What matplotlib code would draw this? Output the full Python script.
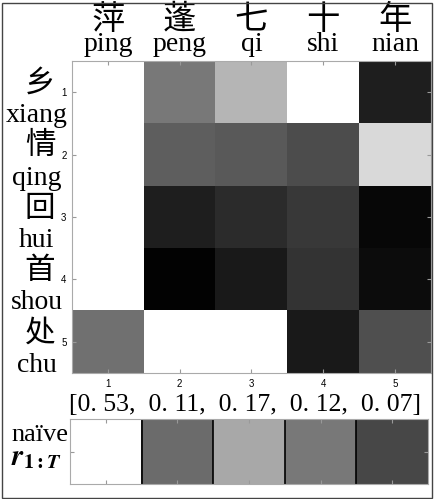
import numpy as np
import matplotlib
matplotlib.use('Agg')
import matplotlib.pyplot as plt
from matplotlib.transforms import blended_transform_factory

# data: gray levels (0 = black, 1 = white)
col_hanzi = ['萍', '蓬', '七', '十', '年']
col_pinyin = ['ping', 'peng', 'qi', 'shi', 'nian']
row_hanzi = ['乡', '情', '回', '首', '处']
row_pinyin = ['xiang', 'qing', 'hui', 'shou', 'chu']
tick_labels = ['1', '2', '3', '4', '5']

attention = np.array([
    [1.00, 0.47, 0.71, 1.00, 0.12],
    [1.00, 0.37, 0.35, 0.30, 0.85],
    [1.00, 0.12, 0.17, 0.22, 0.03],
    [1.00, 0.01, 0.10, 0.20, 0.05],
    [0.44, 1.00, 1.00, 0.10, 0.31],
])
naive_weights = [0.53, 0.11, 0.17, 0.12, 0.07]
naive_gray = [1.00, 0.42, 0.66, 0.47, 0.28]

plt.rcParams['mathtext.fontset'] = 'stix'
W, H = 435, 499
fig = plt.figure(figsize=(W / 100, H / 100), dpi=100)

def fx(px):
    return px / W

def fy(py):
    return 1 - py / H

cjk = ['Noto Sans CJK SC', 'DejaVu Sans']
serif = 'Liberation Serif'

# border round the figure
fig.patches.append(plt.Rectangle((fx(2.5), fy(497.5)), fx(430), 1 - fy(495), transform=fig.transFigure,
                                 fill=False, edgecolor='#444444', linewidth=1.0))

# main heatmap
ax = fig.add_axes([fx(72), fy(373), fx(359), 312 / H])
ax.imshow(attention, cmap='gray', vmin=0, vmax=1, aspect='auto', interpolation='nearest')
ax.set_xticks(range(5))
ax.set_yticks(range(5))
ax.set_xticklabels(tick_labels, fontsize=7, family='Liberation Sans')
ax.set_yticklabels(tick_labels, fontsize=7, family='Liberation Sans')
ax.tick_params(direction='in', top=True, right=True, length=3, color='#999999', pad=4)
for s in ax.spines.values():
    s.set_color('#aaaaaa')

tr_top = blended_transform_factory(ax.transData, fig.transFigure)
for i in range(5):
    ax.text(i, fy(19), col_hanzi[i], transform=tr_top, ha='center', va='center',
            fontsize=24, family=cjk)
    ax.text(i, fy(51), col_pinyin[i], transform=tr_top, ha='center', va='baseline',
            fontsize=20, family=serif)

tr_left = blended_transform_factory(fig.transFigure, ax.transData)
for i in range(5):
    ax.text(fx(40), i - 0.14, row_hanzi[i], transform=tr_left, ha='center', va='center',
            fontsize=22, family=cjk)
    ax.text(fx(37), i + 0.48, row_pinyin[i], transform=tr_left, ha='center', va='baseline',
            fontsize=20, family=serif)

# naive weights
txt = '[' + ',  '.join('%.2f' % v for v in naive_weights).replace('.', '. ') + ']'
fig.text(fx(245), fy(411), txt, ha='center', va='baseline', fontsize=18.5, family=serif)

ax2 = fig.add_axes([fx(70), fy(484), fx(358), 65 / H])
ax2.imshow(np.array([naive_gray]), cmap='gray', vmin=0, vmax=1, aspect='auto', interpolation='nearest')
for b in np.arange(len(naive_gray) - 1) + 0.5:
    ax2.axvline(b, color='black', linewidth=1.2)
ax2.set_xticks(range(5))
ax2.set_yticks([0])
ax2.set_xticklabels([])
ax2.set_yticklabels([])
ax2.tick_params(direction='in', top=True, right=True, length=3, color='#999999')
for s in ax2.spines.values():
    s.set_color('#aaaaaa')

fig.text(fx(40), fy(441), 'naïve', ha='center', va='baseline', fontsize=19, family=serif)
fig.text(fx(36), fy(465), r'$\mathbfit{r}_{\mathbf{1:}\mathbfit{T}}$', ha='center', va='baseline', fontsize=21)

fig.savefig('out.png', dpi=100)
